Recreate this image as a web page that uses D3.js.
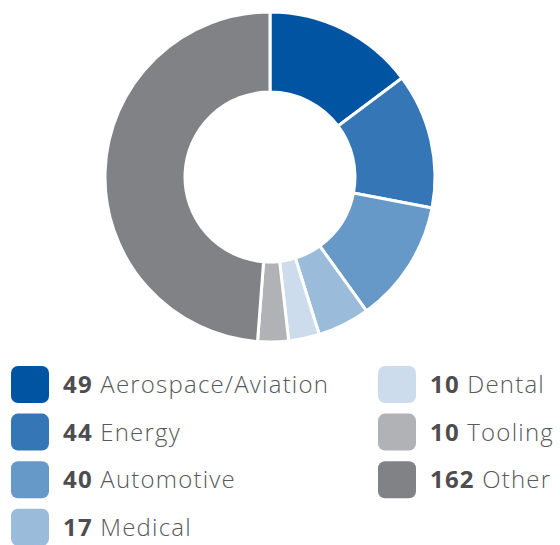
<!DOCTYPE html>
<html>
<head>
<meta charset="utf-8">
<script src="https://cdn.jsdelivr.net/npm/d3@7"></script>
<style>
  body { margin: 0; background: #fff; }
  svg { display: block; }
</style>
</head>
<body>
<svg id="viz"></svg>
<script>
// data
var categories = ['Aerospace/Aviation', 'Energy', 'Automotive', 'Medical', 'Dental', 'Tooling', 'Other'];
var counts = [49, 44, 40, 17, 10, 10, 162];
var colors = ['#0054a1', '#3476b6', '#6699c8', '#9bbbdb', '#ccdcec', '#b1b2b5', '#808285'];

var width = 560, height = 545;
var cx = 270, cy = 177;
var outerR = 165, innerR = 85;

var svg = d3.select('#viz')
            .attr('width', width)
            .attr('height', height);

var data = categories.map(function(c, i) {
    return { name: c, value: counts[i], color: colors[i] };
});

var pie = d3.pie()
            .sort(null)
            .value(function(d) { return d.value; });

var arc = d3.arc()
            .innerRadius(innerR)
            .outerRadius(outerR);

var g = svg.append('g')
           .attr('transform', `translate(${cx}, ${cy})`);

g.selectAll('path')
 .data(pie(data))
 .enter()
 .append('path')
 .attr('d', arc)
 .attr('fill', function(d) { return d.data.color; })
 .attr('stroke', '#fff')
 .attr('stroke-width', 3)
 .attr('stroke-linejoin', 'miter');

// legend: two columns, first has 4 rows
var rowStep = 47.6;
var legend = svg.append('g');

var items = legend.selectAll('g.item')
    .data(data)
    .enter()
    .append('g')
    .attr('class', 'item')
    .attr('transform', function(d, i) {
        var col = i < 4 ? 0 : 1;
        var row = i < 4 ? i : i - 4;
        var x = col === 0 ? 11 : 378;
        return `translate(${x}, ${366 + row * rowStep})`;
    });

items.append('rect')
     .attr('width', 38)
     .attr('height', 37)
     .attr('rx', 7)
     .attr('ry', 7)
     .attr('fill', function(d) { return d.color; });

var label = items.append('text')
     .attr('x', 52)
     .attr('y', 27)
     .style('font-family', '"Open Sans", sans-serif')
     .style('font-size', '24px')
     .style('letter-spacing', '1.2px')
     .style('fill', '#58595b');

label.append('tspan')
     .style('font-weight', 'bold')
     .style('fill', '#4d4d4f')
     .text(function(d) { return d.value; });

label.append('tspan')
     .style('font-weight', '300')
     .text(function(d) { return ' ' + d.name; });
</script>
</body>
</html>
